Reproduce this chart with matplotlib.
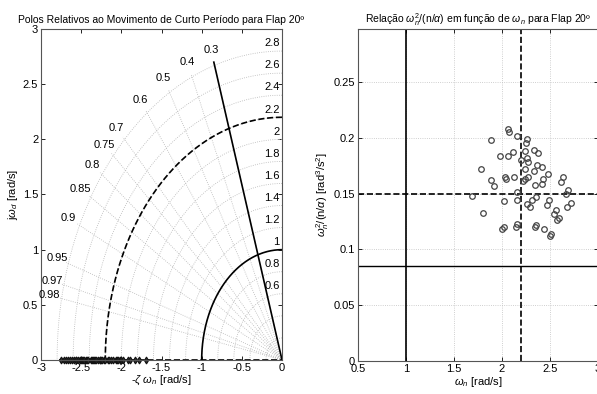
import numpy as np
import matplotlib
matplotlib.use("Agg")
import matplotlib.pyplot as plt

plt.rcParams['font.family'] = ['Liberation Sans', 'DejaVu Sans']
plt.rcParams['mathtext.fontset'] = 'custom'
plt.rcParams['mathtext.rm'] = 'Liberation Sans'
plt.rcParams['mathtext.it'] = 'Liberation Sans:italic'

font_size = 8
title_size = 7.5

# grade do plano s (sgrid)
zetas = [0.3, 0.4, 0.5, 0.6, 0.7, 0.75, 0.8, 0.85, 0.9, 0.95, 0.97, 0.98]
wn_grid = [0.2, 0.4, 0.6, 0.8, 1.0, 1.2, 1.4, 1.6, 1.8, 2.0, 2.2, 2.4, 2.6, 2.8]
wn_labels = [0.6, 0.8, 1.0, 1.2, 1.4, 1.6, 1.8, 2.0, 2.2, 2.4, 2.6, 2.8]

# limites de requisito
zeta_min = 0.3
wn_min = 1.0
wn_ref = 2.2
razao_min = 0.085
razao_ref = 0.15

# polos de curto periodo (parte real)
polos_re = [-2.75, -2.72, -2.69, -2.67, -2.64, -2.61, -2.59, -2.57, -2.56, -2.54,
            -2.51, -2.50, -2.49, -2.48, -2.47, -2.44, -2.43, -2.42, -2.38, -2.36,
            -2.35, -2.34, -2.33, -2.31, -2.29, -2.27, -2.26, -2.25, -2.24, -2.22,
            -2.20, -2.16, -2.15, -2.13, -2.11, -2.07, -2.06, -2.04, -2.02, -2.00,
            -1.98, -1.92, -1.89, -1.83, -1.78, -1.69]
polos_im = [0.0] * len(polos_re)

# wn x razao wn^2/(n/alpha)
wn = [2.06, 2.07, 2.16, 2.26, 2.25, 1.89, 1.98, 2.06, 2.11, 2.20, 2.24, 2.26,
      2.27, 2.33, 2.38, 2.36, 2.42, 2.24, 2.33, 2.48, 1.78, 1.89, 1.92, 2.03,
      2.04, 2.13, 2.24, 2.27, 2.22, 2.34, 2.42, 2.43, 2.61, 2.64, 2.69, 2.67,
      1.69, 2.16, 2.02, 2.26, 2.31, 2.29, 2.35, 2.49, 2.47, 2.56, 2.54, 2.68,
      2.72, 1.80, 2.02, 2.005, 2.15, 2.16, 2.35, 2.34, 2.44, 2.50, 2.51, 2.57,
      2.59, 2.16]
razao = [0.208, 0.205, 0.202, 0.199, 0.195, 0.198, 0.184, 0.184, 0.187, 0.180,
         0.188, 0.182, 0.178, 0.189, 0.186, 0.176, 0.174, 0.172, 0.170, 0.168,
         0.172, 0.162, 0.157, 0.165, 0.163, 0.165, 0.163, 0.165, 0.161, 0.158,
         0.159, 0.163, 0.160, 0.165, 0.153, 0.150, 0.148, 0.144, 0.143, 0.141,
         0.144, 0.138, 0.147, 0.144, 0.140, 0.135, 0.132, 0.138, 0.142, 0.133,
         0.120, 0.118, 0.120, 0.123, 0.122, 0.120, 0.118, 0.112, 0.114, 0.126,
         0.128, 0.151]

fig = plt.figure(figsize=(5.97, 3.94), dpi=100)

# ---------------- polos no plano s ----------------
ax1 = fig.add_axes([0.0687, 0.0863, 0.4037, 0.8401])
grid_kw = dict(color='#b5b5b5', linestyle=':', linewidth=0.6)
th = np.linspace(np.pi / 2, np.pi, 200)
for w in wn_grid:
    ax1.plot(w * np.cos(th), w * np.sin(th), **grid_kw)
r_max = 2.83
for z in zetas:
    ang = np.arccos(z)
    ax1.plot([0, -r_max * np.cos(ang)], [0, r_max * np.sin(ang)], **grid_kw)
    ax1.text(-2.95 * z, 2.95 * np.sin(ang), f"{z:g}", fontsize=font_size,
             ha='center', va='center')
for w in wn_labels:
    ax1.text(-0.03, w + 0.07, f"{w:g}", fontsize=font_size, ha='right', va='center')

ang = np.arccos(zeta_min)
ax1.plot([0, -r_max * np.cos(ang)], [0, r_max * np.sin(ang)], 'k-', linewidth=1.2)
ax1.plot(wn_min * np.cos(th), wn_min * np.sin(th), 'k-', linewidth=1.2)
ax1.plot(wn_ref * np.cos(th), wn_ref * np.sin(th), 'k--', linewidth=1.2)
ax1.plot([-2.78, 0], [0, 0], 'k--', linewidth=1.2)
ax1.plot(polos_re, polos_im, 'd', mfc='#333333', mec='#111111', mew=0.8,
         markersize=3.5, linestyle='none', clip_on=False)

ax1.set_xlim(-3, 0)
ax1.set_ylim(0, 3)
ax1.set_xticks(np.arange(-3, 0.01, 0.5))
ax1.set_xticklabels(['-3', '-2.5', '-2', '-1.5', '-1', '-0.5', '0'])
ax1.set_yticks(np.arange(0, 3.01, 0.5))
ax1.set_yticklabels(['0', '0.5', '1', '1.5', '2', '2.5', '3'])
ax1.set_title("Polos Relativos ao Movimento de Curto Período para Flap 20º",
              fontsize=title_size, pad=4)
ax1.set_xlabel(r"-$\zeta$ $\omega_n$ [rad/s]", fontsize=font_size, labelpad=1)
ax1.set_ylabel(r"j$\omega_d$ [rad/s]", fontsize=font_size, labelpad=2)

# ---------------- wn^2/(n/alpha) x wn ----------------
ax2 = fig.add_axes([0.5997, 0.0838, 0.402, 0.8426])
ax2.grid(True, color='#c0c0c0', linestyle=':', linewidth=0.6)
ax2.axvline(wn_min, color='k', linewidth=1.2)
ax2.axvline(wn_ref, color='k', linestyle='--', linewidth=1.2)
ax2.axhline(razao_ref, color='k', linestyle='--', linewidth=1.2)
ax2.axhline(razao_min, color='k', linewidth=1.0)
ax2.plot(wn, razao, 'o', mfc='none', mec='#444444', mew=0.9, markersize=4,
         linestyle='none')
ax2.set_xlim(0.5, 3)
ax2.set_ylim(0, 0.2975)
ax2.set_xticks([0.5, 1, 1.5, 2, 2.5, 3])
ax2.set_xticklabels(['0.5', '1', '1.5', '2', '2.5', '3'])
ax2.set_yticks([0, 0.05, 0.1, 0.15, 0.2, 0.25])
ax2.set_yticklabels(['0', '0.05', '0.1', '0.15', '0.2', '0.25'])
ax2.set_title(r"Relação $\omega_n^2$/(n/$\alpha$) em função de $\omega_n$ para Flap 20º",
              fontsize=title_size, pad=4)
ax2.set_xlabel(r"$\omega_n$ [rad/s]", fontsize=font_size, labelpad=1)
ax2.set_ylabel(r"$\omega_n^2$/(n/$\alpha$) [rad$^3$/s$^2$]", fontsize=font_size, labelpad=2)

for ax in (ax1, ax2):
    ax.tick_params(labelsize=font_size, direction='in', length=3, width=0.6,
                   top=True, right=True, pad=2)
    for s in ax.spines.values():
        s.set_color('#555555')
        s.set_linewidth(0.8)

fig.savefig("out.png", dpi=100)
